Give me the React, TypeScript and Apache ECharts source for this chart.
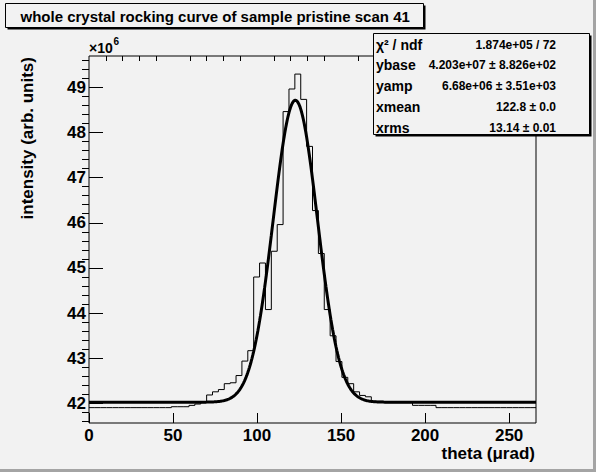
import React, { useEffect, useRef } from "react";
import * as echarts from "echarts";

const FONT = "'Liberation Sans', Arial, Helvetica, sans-serif";
const BG = "#f2f2f2";

// Histogram: 76 bins, width 3.5 µrad, starting at 0 (values in units of 1e6)
const BIN_LOW = 0;
const BIN_WIDTH = 3.5;
const histValues = [
  41.91, 41.91, 41.91, 41.91, 41.91, 41.91, 41.91, 41.91, 41.91, 41.91,
  41.91, 41.91, 41.91, 41.91, 41.93, 41.93, 41.93, 41.96, 41.99, 42.02,
  42.19, 42.26, 42.31, 42.44, 42.46, 42.62, 42.94, 43.17, 44.80, 45.11,
  44.08, 45.37, 45.96, 48.46, 48.96, 49.29, 48.73, 47.69, 46.27, 45.32,
  44.08, 43.50, 42.93, 42.58, 42.44, 42.26, 42.18, 42.15, 42.05, 42.05,
  42.02, 42.02, 42.02, 42.02, 42.02, 41.96, 41.96, 41.96, 41.96, 41.91,
  41.91, 41.91, 41.91, 41.91, 41.91, 41.91, 41.91, 41.91, 41.91, 41.91,
  41.91, 41.91, 41.91, 41.91, 41.91, 41.91,
];

// Fit parameters (gaussian + base), in units of 1e6 for y
const FIT_YBASE = 42.03;
const FIT_YAMP = 6.68;
const FIT_XMEAN = 122.8;
const FIT_XRMS = 13.14;

// Axes
const X_MIN = 0;
const X_MAX = 266;
const Y_MIN = 41.57;
const Y_MAX = 49.69;
const xMajorTicks = [0, 50, 100, 150, 200, 250];
const xMinorTicks = [10, 20, 30, 40, 60, 70, 80, 90, 110, 120, 130, 140, 160, 170, 180, 190, 210, 220, 230, 240, 260];
const yMajorTicks = [42, 43, 44, 45, 46, 47, 48, 49];
const yMinorTicks = [
  41.6, 41.8, 42.2, 42.4, 42.6, 42.8, 43.2, 43.4, 43.6, 43.8, 44.2, 44.4, 44.6, 44.8,
  45.2, 45.4, 45.6, 45.8, 46.2, 46.4, 46.6, 46.8, 47.2, 47.4, 47.6, 47.8,
  48.2, 48.4, 48.6, 48.8, 49.2, 49.4, 49.6,
];

// Texts
const titleText = "whole crystal rocking curve of sample pristine scan 41";
const xTitle = "theta (\u03bcrad)";
const yTitle = "intensity (arb. units)";
const statLabels = ["\u03c7\u00b2 / ndf", "ybase", "yamp", "xmean", "xrms"];
const statValues = [
  "1.874e+05 / 72",
  "4.203e+07 \u00b1 8.826e+02",
  "6.68e+06 \u00b1 3.51e+03",
  "122.8 \u00b1 0.0",
  "13.14 \u00b1 0.01",
];

export default function App() {
  const ref = useRef<HTMLDivElement>(null);

  useEffect(() => {
    if (!ref.current) return;
    const chart = echarts.init(ref.current, null, { renderer: "svg" });

    const histPoints: number[][] = [];
    histValues.forEach((v, i) => {
      const x0 = BIN_LOW + i * BIN_WIDTH;
      histPoints.push([x0, v], [x0 + BIN_WIDTH, v]);
    });

    const fitPoints: number[][] = [];
    for (let k = 0; k <= 532; k++) {
      const x = k * 0.5;
      const z = (x - FIT_XMEAN) / FIT_XRMS;
      fitPoints.push([x, FIT_YBASE + FIT_YAMP * Math.exp(-0.5 * z * z)]);
    }

    const labelStyle = {
      color: "#000",
      fontSize: 17,
      fontWeight: "bold" as const,
      fontFamily: FONT,
    };

    const statsGraphics: any[] = [];
    statLabels.forEach((lab, i) => {
      const cy = 44.5 + i * 20.8;
      statsGraphics.push({
        type: "text",
        x: 376,
        y: cy,
        z: 102,
        style: { text: lab, fill: "#000", fontSize: 14, fontWeight: "bold", fontFamily: FONT, align: "left", verticalAlign: "middle" },
      });
      statsGraphics.push({
        type: "text",
        x: 556,
        y: cy,
        z: 102,
        style: { text: statValues[i], fill: "#000", fontSize: 12, fontWeight: "bold", fontFamily: FONT, align: "right", verticalAlign: "middle" },
      });
    });

    const option: any = {
      animation: false,
      backgroundColor: BG,
      textStyle: { fontFamily: FONT },
      grid: {
        left: 89,
        top: 56,
        width: 447,
        height: 367,
        show: true,
        borderColor: "#000",
        borderWidth: 1,
        backgroundColor: "transparent",
      },
      xAxis: [
        {
          type: "value",
          min: X_MIN,
          max: X_MAX,
          axisLine: { show: false },
          splitLine: { show: false },
          axisTick: { show: true, inside: true, length: 10, customValues: xMajorTicks, lineStyle: { color: "#000", width: 1 } },
          axisLabel: { ...labelStyle, customValues: xMajorTicks, margin: 4 },
        },
        {
          type: "value",
          min: X_MIN,
          max: X_MAX,
          axisLine: { show: false },
          splitLine: { show: false },
          axisLabel: { show: false },
          axisTick: { show: true, inside: true, length: 5, customValues: xMinorTicks, lineStyle: { color: "#000", width: 1 } },
        },
      ],
      yAxis: [
        {
          type: "value",
          min: Y_MIN,
          max: Y_MAX,
          axisLine: { show: false },
          splitLine: { show: false },
          axisTick: { show: true, inside: true, length: 14, customValues: yMajorTicks, lineStyle: { color: "#000", width: 1 } },
          axisLabel: { ...labelStyle, customValues: yMajorTicks, margin: 3 },
        },
        {
          type: "value",
          min: Y_MIN,
          max: Y_MAX,
          axisLine: { show: false },
          splitLine: { show: false },
          axisLabel: { show: false },
          axisTick: { show: true, inside: true, length: 7, customValues: yMinorTicks, lineStyle: { color: "#000", width: 1 } },
        },
      ],
      series: [
        {
          type: "line",
          name: "hist",
          xAxisIndex: 0,
          yAxisIndex: 0,
          data: histPoints,
          symbol: "none",
          lineStyle: { color: "#000", width: 1 },
          z: 3,
        },
        {
          type: "line",
          name: "fit",
          xAxisIndex: 0,
          yAxisIndex: 0,
          data: fitPoints,
          symbol: "none",
          lineStyle: { color: "#000", width: 3 },
          z: 4,
        },
      ],
      graphic: [
        // canvas bevel
        { type: "rect", z: 100, shape: { x: 593, y: 0, width: 3, height: 472 }, style: { fill: "#a4a4a4" } },
        { type: "rect", z: 100, shape: { x: 0, y: 469, width: 596, height: 3 }, style: { fill: "#a4a4a4" } },
        // title box
        { type: "rect", z: 100, shape: { x: 7.5, y: 5.5, width: 418, height: 24 }, style: { fill: "#000" } },
        { type: "rect", z: 101, shape: { x: 5.5, y: 3.5, width: 418, height: 24 }, style: { fill: BG, stroke: "#000", lineWidth: 1 } },
        {
          type: "text",
          z: 102,
          x: 20.5,
          y: 16,
          style: { text: titleText, fill: "#000", fontSize: 15, fontWeight: "bold", fontFamily: FONT, align: "left", verticalAlign: "middle" },
        },
        // stats box
        { type: "rect", z: 100, shape: { x: 375.5, y: 35.5, width: 216, height: 101 }, style: { fill: "#000" } },
        { type: "rect", z: 101, shape: { x: 373.5, y: 33.5, width: 216, height: 101 }, style: { fill: BG, stroke: "#000", lineWidth: 1 } },
        ...statsGraphics,
        // exponent label
        {
          type: "text",
          z: 102,
          x: 89,
          y: 48,
          style: { text: "\u00d710", fill: "#000", fontSize: 14, fontWeight: "bold", fontFamily: FONT, align: "left", verticalAlign: "middle" },
        },
        {
          type: "text",
          z: 102,
          x: 113.5,
          y: 41.5,
          style: { text: "6", fill: "#000", fontSize: 10, fontWeight: "bold", fontFamily: FONT, align: "left", verticalAlign: "middle" },
        },
        // axis titles
        {
          type: "text",
          z: 102,
          x: 535,
          y: 453,
          style: { text: xTitle, fill: "#000", fontSize: 17, fontWeight: "bold", fontFamily: FONT, align: "right", verticalAlign: "middle" },
        },
        {
          type: "text",
          z: 102,
          x: 27,
          y: 57,
          rotation: Math.PI / 2,
          style: { text: yTitle, fill: "#000", fontSize: 17, fontWeight: "bold", fontFamily: FONT, align: "right", verticalAlign: "middle" },
        },
      ],
    };

    chart.setOption(option);
    return () => {
      chart.dispose();
    };
  }, []);

  return (
    <div
      ref={ref}
      style={{ position: "fixed", left: 0, top: 0, width: 596, height: 472 }}
    />
  );
}
